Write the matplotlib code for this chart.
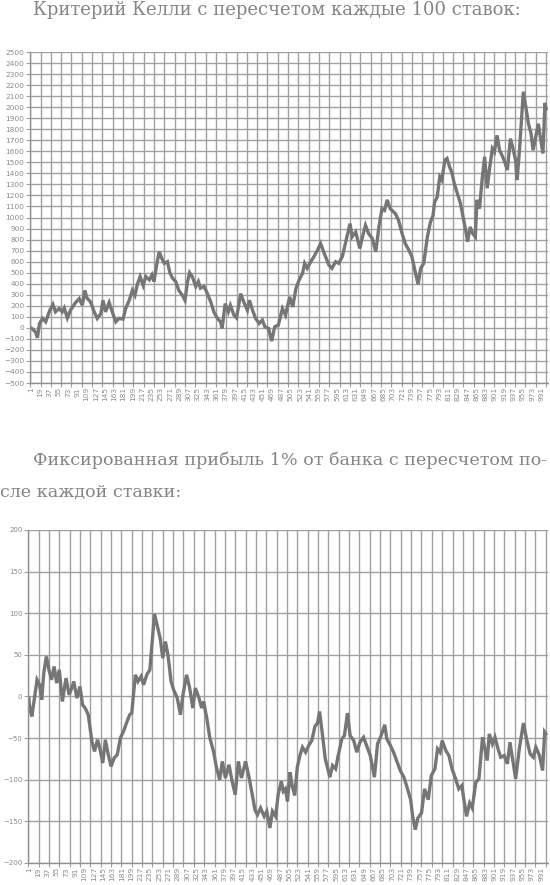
import numpy as np
import matplotlib
matplotlib.use('Agg')
import matplotlib.pyplot as plt
from matplotlib.ticker import MultipleLocator, FixedLocator

# Критерий Келли с пересчетом каждые 100 ставок (номер ставки, банк)
kelly_bets = [1, 3, 10, 14, 18, 24, 30, 38, 44, 49, 56, 62, 66, 72, 78, 88, 95, 101, 106, 110,
              117, 124, 130, 137, 141, 146, 153, 159, 166, 172, 180, 185, 192, 198, 203, 208,
              213, 219, 224, 231, 236, 240, 245, 250, 255, 260, 266, 271, 276, 282, 288, 295,
              300, 305, 309, 314, 321, 326, 330, 337, 343, 350, 356, 363, 369, 372, 378, 384,
              388, 395, 400, 408, 414, 421, 425, 431, 437, 444, 450, 455, 462, 468, 474, 481,
              489, 495, 503, 509, 515, 521, 528, 532, 537, 544, 550, 557, 563, 570, 579, 585,
              592, 598, 605, 611, 620, 624, 631, 639, 645, 650, 656, 663, 670, 676, 682, 687,
              692, 698, 708, 714, 721, 727, 734, 740, 747, 752, 757, 763, 770, 776, 781, 784,
              789, 794, 798, 804, 808, 813, 818, 822, 827, 834, 839, 844, 848, 853, 858, 863,
              866, 871, 876, 881, 886, 891, 896, 900, 905, 910, 916, 921, 925, 931, 936, 941,
              944, 949, 956, 961, 966, 971, 975, 980, 985, 990, 994, 998, 1000]
kelly_bank = [0, -5, -36, -90, 40, 85, 55, 160, 212, 145, 175, 145, 180, 90, 160, 230, 265, 205,
              340, 270, 235, 145, 85, 130, 250, 145, 230, 145, 55, 85, 80, 175, 250, 340, 295,
              400, 465, 385, 465, 435, 480, 420, 570, 690, 630, 585, 600, 495, 450, 420, 340,
              295, 250, 420, 500, 465, 375, 420, 360, 375, 315, 235, 145, 85, 55, -5, 220, 145,
              205, 115, 90, 310, 235, 160, 250, 160, 85, 40, 70, 10, -5, -120, 10, 25, 175, 115,
              280, 190, 355, 430, 495, 585, 540, 600, 645, 705, 765, 675, 570, 540, 600, 585,
              645, 765, 945, 825, 870, 720, 840, 930, 855, 810, 690, 915, 1080, 1065, 1160,
              1080, 1035, 975, 855, 765, 705, 645, 495, 395, 540, 585, 825, 960, 1020, 1140,
              1185, 1370, 1340, 1520, 1535, 1460, 1400, 1310, 1235, 1130, 1010, 890, 780, 915,
              855, 825, 1160, 1080, 1340, 1550, 1265, 1460, 1625, 1595, 1745, 1610, 1550, 1490,
              1430, 1715, 1625, 1520, 1340, 1640, 2140, 2000, 1850, 1760, 1610, 1730, 1850,
              1700, 1580, 2040, 1985]

# Фиксированная прибыль 1% от банка (номер ставки, банк)
fixed_bets = [1, 3, 7, 13, 17, 22, 26, 30, 35, 40, 45, 50, 55, 60, 66, 73, 79, 84, 88, 94, 100,
              105, 110, 116, 123, 128, 134, 139, 144, 149, 154, 160, 166, 172, 178, 184, 191,
              196, 200, 207, 212, 218, 223, 229, 235, 239, 244, 249, 255, 260, 265, 270, 276,
              281, 288, 294, 299, 306, 312, 318, 323, 330, 335, 339, 345, 351, 358, 364, 370,
              375, 381, 388, 394, 400, 406, 412, 420, 427, 433, 438, 443, 449, 456, 461, 467,
              472, 478, 483, 489, 493, 497, 501, 506, 510, 515, 520, 525, 530, 536, 542, 548,
              554, 559, 563, 568, 574, 579, 583, 588, 594, 599, 606, 611, 617, 622, 629, 635,
              641, 648, 654, 661, 669, 675, 682, 689, 693, 700, 706, 713, 719, 726, 732, 739,
              743, 748, 753, 760, 766, 773, 779, 786, 791, 796, 800, 807, 813, 819, 826, 832,
              838, 842, 847, 853, 858, 865, 871, 878, 882, 887, 891, 897, 902, 908, 913, 920,
              926, 931, 936, 942, 949, 957, 963, 970, 976, 981, 988, 994, 998, 1000]
fixed_bank = [-2, -14, -24, 2, 20, 14, -4, 28, 48, 32, 20, 36, 16, 32, -6, 22, 2, 10, 18, -2, 12,
              -10, -14, -22, -54, -66, -52, -64, -80, -52, -68, -84, -74, -70, -50, -42, -30,
              -22, -20, 26, 18, 24, 14, 26, 32, 62, 99, 86, 70, 46, 66, 50, 18, 8, -2, -22, 2,
              26, 10, -14, 10, -2, -14, -6, -26, -50, -66, -86, -100, -78, -98, -82, -102,
              -118, -78, -98, -78, -98, -118, -136, -142, -134, -144, -138, -158, -138, -144,
              -118, -102, -114, -111, -126, -91, -107, -119, -85, -71, -61, -67, -59, -53, -36,
              -32, -18, -43, -75, -87, -97, -83, -87, -71, -51, -47, -20, -47, -53, -67, -55,
              -49, -59, -71, -97, -57, -47, -34, -51, -59, -67, -79, -89, -97, -109, -124,
              -144, -160, -146, -140, -111, -124, -95, -87, -63, -67, -53, -65, -71, -87, -99,
              -111, -107, -124, -144, -128, -134, -103, -99, -49, -61, -77, -45, -57, -49, -63,
              -73, -71, -81, -55, -75, -99, -63, -32, -51, -69, -73, -61, -71, -89, -43, -45]

tick_labels = list(range(1, 1000, 18))

line_color = '#767676'
grid_color = '#a0a0a0'
text_color = '#858585'

fig = plt.figure(figsize=(5.5, 8.85), dpi=100)

fig.text(0.503, 0.9885, 'Критерий Келли с пересчетом каждые 100 ставок:',
         ha='center', va='center', fontsize=13, family='DejaVu Serif', color=text_color)
fig.text(0.06, 0.4805, 'Фиксированная прибыль 1% от банка с пересчетом по-',
         ha='left', va='center', fontsize=12.6, family='DejaVu Serif', color=text_color)
fig.text(0.0, 0.444, 'сле каждой ставки:',
         ha='left', va='center', fontsize=12.6, family='DejaVu Serif', color=text_color)


def style_axes(ax, ystep, ylo, yhi, yfont):
    ax.set_xlim(-0.5, 1004)
    ax.set_ylim(ylo, yhi)
    ax.yaxis.set_major_locator(MultipleLocator(ystep))
    ax.xaxis.set_major_locator(FixedLocator(tick_labels))
    ax.xaxis.set_minor_locator(MultipleLocator(20))
    ax.set_xticklabels([str(t) for t in tick_labels], rotation=90)
    ax.tick_params(axis='x', which='major', length=0, labelsize=5.3, labelcolor='#8a8a8a', pad=3)
    ax.tick_params(axis='x', which='minor', length=3, color=grid_color, width=0.8)
    ax.tick_params(axis='y', which='major', length=3, color=grid_color, width=0.8,
                   labelsize=yfont, labelcolor='#8a8a8a', pad=1)
    ax.grid(True, which='minor', axis='x', color=grid_color, linewidth=1.0)
    ax.grid(True, which='major', axis='y', color=grid_color, linewidth=1.0)
    for s in ['top', 'right']:
        ax.spines[s].set_visible(False)
    for s in ['left', 'bottom']:
        ax.spines[s].set_color('#909090')
        ax.spines[s].set_linewidth(1.0)
    ax.set_axisbelow(True)


ax1 = fig.add_axes([0.0545, 0.5672, 0.942, 0.374])
ax1.plot(kelly_bets, kelly_bank, color=line_color, linewidth=2.4, solid_joinstyle='miter')
style_axes(ax1, 100, -500, 2500, 5.3)

ax2 = fig.add_axes([0.0509, 0.0249, 0.945, 0.3763])
ax2.plot(fixed_bets, fixed_bank, color=line_color, linewidth=2.4, solid_joinstyle='miter')
style_axes(ax2, 50, -200, 200, 5.0)

fig.savefig('out.png', dpi=100)
